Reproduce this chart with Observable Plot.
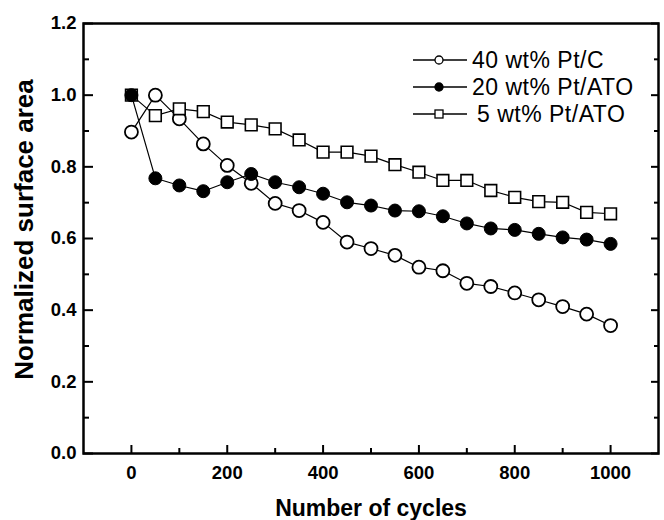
<!DOCTYPE html>
<html>
<head>
<meta charset="utf-8">
<script src="https://cdn.jsdelivr.net/npm/d3@7"></script>
<script src="https://cdn.jsdelivr.net/npm/@observablehq/plot@0.6"></script>
<style>
  html, body { margin: 0; padding: 0; background: #fff; }
  #wrap { position: relative; width: 664px; height: 520px; font-family: "Liberation Sans", Arial, sans-serif; }
  #legend { position: absolute; left: 0; top: 0; }
  svg { overflow: visible; }
</style>
</head>
<body>
<div id="wrap"></div>
<script>
// ---- data ----
const cycles = [0, 50, 100, 150, 200, 250, 300, 350, 400, 450, 500, 550, 600, 650, 700, 750, 800, 850, 900, 950, 1000];
const ptc40 = [0.897, 1.000, 0.934, 0.864, 0.804, 0.754, 0.698, 0.678, 0.645, 0.590, 0.572, 0.553, 0.520, 0.510, 0.475, 0.466, 0.448, 0.429, 0.410, 0.389, 0.357];
const ptato20 = [1.000, 0.768, 0.748, 0.732, 0.757, 0.780, 0.757, 0.743, 0.725, 0.701, 0.692, 0.678, 0.676, 0.662, 0.642, 0.628, 0.624, 0.613, 0.603, 0.597, 0.585];
const ptato5 = [1.000, 0.943, 0.962, 0.954, 0.925, 0.917, 0.906, 0.875, 0.841, 0.841, 0.830, 0.806, 0.785, 0.762, 0.762, 0.734, 0.715, 0.703, 0.701, 0.673, 0.669];
const seriesNames = ["40 wt% Pt/C", "20 wt% Pt/ATO", "5 wt% Pt/ATO"];
const xTicks = [0, 200, 400, 600, 800, 1000];
const xMinor = [100, 300, 500, 700, 900];
const yTicks = [0.0, 0.2, 0.4, 0.6, 0.8, 1.0, 1.2];
const yMinor = [0.1, 0.3, 0.5, 0.7, 0.9, 1.1];
const xTitle = "Number of cycles";
const yTitle = "Normalized surface area";

const rows = s => cycles.map((c, i) => ({x: c, y: s[i]}));
const d40 = rows(ptc40), d20 = rows(ptato20), d5 = rows(ptato5);

const W = 664, H = 520;
const plot = Plot.plot({
  width: W, height: H,
  marginLeft: 83, marginRight: 6, marginTop: 23, marginBottom: 67,
  style: {fontFamily: "Liberation Sans, Arial, sans-serif", color: "#000", background: "#fff", overflow: "visible"},
  x: {domain: [-100, 1100]},
  y: {domain: [0, 1.2]},
  marks: [
    // lines
    Plot.line(d40, {x: "x", y: "y", stroke: "#000", strokeWidth: 1.2}),
    Plot.line(d5, {x: "x", y: "y", stroke: "#000", strokeWidth: 1.2}),
    Plot.line(d20, {x: "x", y: "y", stroke: "#000", strokeWidth: 1.2}),
    // markers
    Plot.dot(d40, {x: "x", y: "y", r: 6.5, fill: "#fff", stroke: "#000", strokeWidth: 1.8}),
    Plot.dot(d5, {x: "x", y: "y", r: 6.6, symbol: "square", fill: "#fff", stroke: "#000", strokeWidth: 1.6}),
    Plot.dot(d20, {x: "x", y: "y", r: 6.5, fill: "#000", stroke: "#000", strokeWidth: 1}),
    // axes: inward ticks
    Plot.axisX({ticks: xTicks, tickSize: -8, strokeWidth: 2, text: null, label: null}),
    Plot.axisX({ticks: xMinor, tickSize: -5, strokeWidth: 2, text: null, label: null}),
    Plot.axisY({ticks: yTicks, tickSize: -10, strokeWidth: 2, text: null, label: null}),
    Plot.axisY({ticks: yMinor, tickSize: -6, strokeWidth: 2, text: null, label: null}),
    Plot.axisY({anchor: "right", ticks: yTicks, tickSize: -8, strokeWidth: 2, text: null, label: null}),
    Plot.axisY({anchor: "right", ticks: yMinor, tickSize: -5, strokeWidth: 2, text: null, label: null}),
    // tick labels
    Plot.axisX({ticks: xTicks, tickSize: 0, tickPadding: 12, fontSize: 18.5, fontWeight: "bold", tickFormat: d => String(d), label: null}),
    Plot.axisY({ticks: yTicks, tickSize: 0, tickPadding: 7, fontSize: 18.5, fontWeight: "bold", tickFormat: d3.format(".1f"), label: null}),
    // frame
    Plot.frame({stroke: "#000", strokeWidth: 2.5}),
    // axis titles
    Plot.text([xTitle], {text: d => d, frameAnchor: "bottom", dy: 55, lineAnchor: "middle", fontSize: 23, fontWeight: "bold", fill: "#000"}),
    Plot.text([yTitle], {text: d => d, frameAnchor: "left", textAnchor: "middle", rotate: -90, dx: -59, dy: -9, lineAnchor: "middle", fontSize: 26, fontWeight: "bold", fill: "#000"})
  ]
});
document.getElementById("wrap").appendChild(plot);

// ---- legend (inside the plot area, top right) ----
const ns = "http://www.w3.org/2000/svg";
const leg = document.createElementNS(ns, "svg");
leg.setAttribute("id", "legend");
leg.setAttribute("width", W);
leg.setAttribute("height", H);
leg.style.pointerEvents = "none";
const rowsY = [60, 87, 114];
const styles = [
  {shape: "circle", fill: "#fff"},
  {shape: "circle", fill: "#000"},
  {shape: "square", fill: "#fff"}
];
seriesNames.forEach((name, i) => {
  const y = rowsY[i];
  const line = document.createElementNS(ns, "line");
  line.setAttribute("x1", 413); line.setAttribute("x2", 467);
  line.setAttribute("y1", y); line.setAttribute("y2", y);
  line.setAttribute("stroke", "#000"); line.setAttribute("stroke-width", 1.3);
  leg.appendChild(line);
  let m;
  if (styles[i].shape === "circle") {
    m = document.createElementNS(ns, "circle");
    m.setAttribute("cx", 439); m.setAttribute("cy", y); m.setAttribute("r", 4);
  } else {
    m = document.createElementNS(ns, "rect");
    m.setAttribute("x", 435); m.setAttribute("y", y - 4); m.setAttribute("width", 8); m.setAttribute("height", 8);
  }
  m.setAttribute("fill", styles[i].fill); m.setAttribute("stroke", "#000"); m.setAttribute("stroke-width", 1.3);
  leg.appendChild(m);
  const t = document.createElementNS(ns, "text");
  t.setAttribute("x", i === 2 ? 477 : 472);
  t.setAttribute("y", y);
  t.setAttribute("dy", "0.36em");
  t.setAttribute("font-size", 23);
  t.setAttribute("letter-spacing", "0.5");
  t.setAttribute("font-family", "Liberation Sans, Arial, sans-serif");
  t.setAttribute("fill", "#000");
  t.textContent = name;
  leg.appendChild(t);
});
document.getElementById("wrap").appendChild(leg);
</script>
</body>
</html>
